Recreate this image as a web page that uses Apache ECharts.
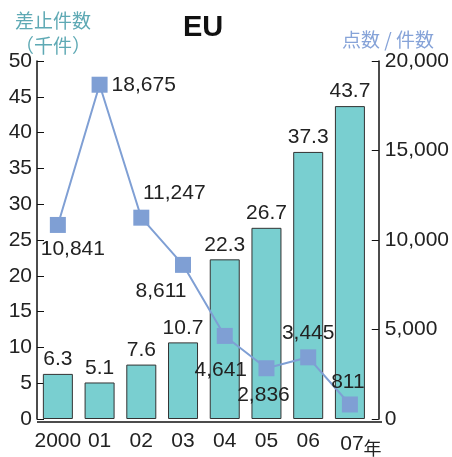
<!DOCTYPE html>
<html>
<head>
<meta charset="utf-8">
<script src="https://cdn.jsdelivr.net/npm/echarts@6/dist/echarts.min.js"></script>
<style>
    html, body { margin: 0; padding: 0; background: #fff; }
    #eu-chart { width: 452px; height: 457px; }
</style>
</head>
<body>
<div id="eu-chart"></div>
<script>
    // 年
    var years = ['2000', '01', '02', '03', '04', '05', '06', '07'];
    // 差止件数（千件）
    var seizures = [6.3, 5.1, 7.6, 10.7, 22.3, 26.7, 37.3, 43.7];
    // 点数 / 件数
    var itemsPerCase = [10841, 18675, 11247, 8611, 4641, 2836, 3445, 811];
    // ラベル位置
    var lineLabelPos = ['bottom', 'right', 'top', 'bottom', 'bottom', 'bottom', 'top', 'top'];
    var lineLabelOffset = [[15, 2], [0, 0], [33, -2], [-22, 4], [-4, 12], [-3, 4], [0, -2], [-2, 0]];

    var fontLatin = '"Liberation Sans", Arial, sans-serif';
    var fontCJK = '"Noto Sans CJK JP", sans-serif';

    function addCommas(v) {
        return String(v).replace(/\B(?=(\d{3})+(?!\d))/g, ',');
    }

    var myEcharts = echarts.init(document.getElementById('eu-chart'));
    myEcharts.setOption({
        animation: false,
        title: [
            {
                text: 'EU', left: 178, top: 8,
                textStyle: { fontFamily: fontLatin, fontSize: 29, fontWeight: 'bold', color: '#111' }
            },
            {
                text: '差止件数\n（千件）', left: 10, top: 3,
                textStyle: { fontFamily: fontCJK, fontSize: 19, fontWeight: 'normal', color: '#5ea9b4', lineHeight: 25 }
            },
            {
                text: '点数 / 件数', left: 337, top: 25,
                textStyle: { fontFamily: fontCJK, fontSize: 19, fontWeight: 'normal', color: '#86a3d8' }
            }
        ],
        grid: { left: 37, right: 78, top: 61, bottom: 35 },
        // x軸の線は右軸まで伸ばす
        graphic: [{
            type: 'line',
            shape: { x1: 37, y1: 422, x2: 382, y2: 422 },
            style: { stroke: '#111', lineWidth: 1.5 },
            z: 10
        }],
        xAxis: {
            type: 'category',
            data: years,
            axisLine: { show: false },
            axisTick: { show: false },
            axisLabel: {
                interval: 0,
                margin: 12,
                fontFamily: fontLatin, fontSize: 21, color: '#222',
                formatter: function (v, i) {
                    return i === years.length - 1 ? '{a|' + v + '}{b|年}' : v;
                },
                rich: {
                    a: { fontFamily: fontLatin, fontSize: 21, color: '#222', padding: [0, 0, 0, 22] },
                    b: { fontFamily: fontCJK, fontSize: 18, color: '#222', padding: [8, 0, 0, 0] }
                }
            }
        },
        yAxis: [
            {
                type: 'value', min: 0, max: 50, interval: 5,
                axisLine: { show: true, lineStyle: { color: '#111', width: 1.5 } },
                axisTick: { show: true, inside: true, length: 7, lineStyle: { color: '#111' } },
                splitLine: { show: false },
                axisLabel: { margin: 5, fontFamily: fontLatin, fontSize: 21, color: '#222' }
            },
            {
                type: 'value', min: 0, max: 20000, interval: 5000,
                offset: 8,
                axisLine: { show: true, lineStyle: { color: '#111', width: 1.5 } },
                axisTick: { show: true, inside: true, length: 7, lineStyle: { color: '#111' } },
                splitLine: { show: false },
                axisLabel: {
                    margin: 6, fontFamily: fontLatin, fontSize: 21, color: '#222',
                    formatter: function (v) { return addCommas(v); }
                }
            }
        ],
        series: [
            {
                type: 'bar',
                yAxisIndex: 0,
                barWidth: 30,
                data: seizures,
                itemStyle: { color: '#79cfd0', borderColor: '#333', borderWidth: 1 },
                label: {
                    show: true, position: 'top', distance: 4,
                    fontFamily: fontLatin, fontSize: 21, color: '#222'
                }
            },
            {
                type: 'line',
                yAxisIndex: 1,
                data: itemsPerCase.map(function (v, i) {
                    return {
                        value: v,
                        label: { position: lineLabelPos[i], offset: lineLabelOffset[i] }
                    };
                }),
                symbol: 'rect',
                symbolSize: 16,
                lineStyle: { color: '#7f9fd4', width: 2 },
                itemStyle: { color: '#7f9fd4' },
                label: {
                    show: true, distance: 4,
                    fontFamily: fontLatin, fontSize: 21, color: '#222',
                    formatter: function (p) { return addCommas(p.value); }
                },
                z: 5
            }
        ]
    });
</script>
</body>
</html>
